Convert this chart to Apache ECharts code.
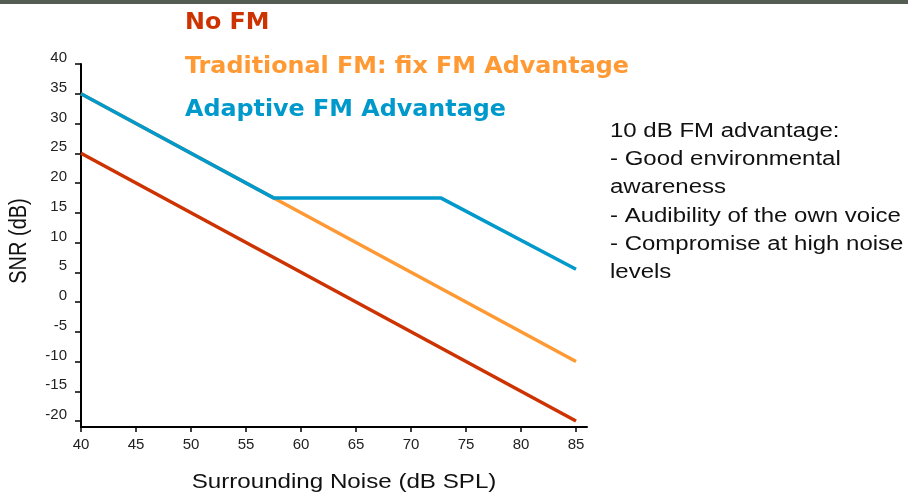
<!DOCTYPE html>
<html>
<head>
<meta charset="utf-8">
<script src="https://cdn.jsdelivr.net/npm/echarts@6/dist/echarts.min.js"></script>
<style>html,body{margin:0;padding:0;background:#fff;}#c{width:908px;height:495px;}</style>
</head>
<body>
<div id="c"></div>
<script>
// Data
const seriesNames = ['No FM', 'Traditional FM: fix FM Advantage', 'Adaptive FM Advantage'];
const noFM = [[40, 25], [85, -20]];
const traditionalFM = [[40, 35], [85, -10]];
const adaptiveFM = [[40, 35], [57.5, 17.5], [72.7, 17.5], [85, 5.5]];
const xTicks = [40, 45, 50, 55, 60, 65, 70, 75, 80, 85];
const yTicks = [-20, -15, -10, -5, 0, 5, 10, 15, 20, 25, 30, 35, 40];
const xTitle = 'Surrounding Noise (dB SPL)';
const yTitle = 'SNR (dB)';
const noteLines = ['10 dB FM advantage:', '- Good environmental', 'awareness', '- Audibility of the own voice', '- Compromise at high noise', 'levels'];

const colors = ['#cc3300', '#ff9933', '#0099cc'];
const chart = echarts.init(document.getElementById('c'), null, {renderer: 'canvas'});
const labelFont = {fontFamily: 'Liberation Sans, Arial, sans-serif', fontSize: 15, color: '#222'};
const legendFont = 'bold 23px "DejaVu Sans", Verdana, sans-serif';

chart.setOption({
  animation: false,
  backgroundColor: '#fff',
  grid: {left: 81, top: 64, width: 506, height: 363, containLabel: false},
  xAxis: {
    type: 'value', min: 40, max: 86,
    splitLine: {show: false},
    axisLine: {show: true, onZero: false, lineStyle: {color: '#000', width: 2}},
    axisTick: {show: true, length: 5, customValues: xTicks, lineStyle: {color: '#000', width: 1.5}},
    axisLabel: Object.assign({margin: 10, customValues: xTicks}, labelFont)
  },
  yAxis: {
    type: 'value', min: -21, max: 40,
    splitLine: {show: false},
    axisLine: {show: true, onZero: false, lineStyle: {color: '#000', width: 2}},
    axisTick: {show: true, length: 6, customValues: yTicks, lineStyle: {color: '#000', width: 1.5}},
    axisLabel: Object.assign({margin: 14, customValues: yTicks, verticalAlign: 'bottom', lineHeight: 12}, labelFont)
  },
  series: [
    {name: seriesNames[0], type: 'line', data: noFM, symbol: 'none', lineStyle: {color: colors[0], width: 3.5}, z: 2},
    {name: seriesNames[1], type: 'line', data: traditionalFM, symbol: 'none', lineStyle: {color: colors[1], width: 3.5}, z: 3},
    {name: seriesNames[2], type: 'line', data: adaptiveFM, symbol: 'none', lineStyle: {color: colors[2], width: 3.5}, z: 4}
  ],
  graphic: [
    {type: 'rect', left: 0, top: 0, shape: {width: 908, height: 4}, style: {fill: '#545d51'}},
    {type: 'text', x: 185, y: 23, scaleX: 1.035, style: {text: seriesNames[0], fill: colors[0], font: legendFont, verticalAlign: 'middle'}},
    {type: 'text', x: 185, y: 67, scaleX: 1.035, style: {text: seriesNames[1], fill: colors[1], font: legendFont, verticalAlign: 'middle'}},
    {type: 'text', x: 185, y: 110, scaleX: 1.035, style: {text: seriesNames[2], fill: colors[2], font: legendFont, verticalAlign: 'middle'}},
    {type: 'text', x: 610, y: 117, scaleX: 1.2, style: {text: noteLines.join('\n'), fill: '#111', font: '20px "Liberation Sans", Arial, sans-serif', lineHeight: 28.3, verticalAlign: 'top'}},
    {type: 'text', x: 344, y: 482, scaleX: 1.15, style: {text: xTitle, fill: '#111', font: '21px "Liberation Sans", Arial, sans-serif', align: 'center', verticalAlign: 'middle'}},
    {type: 'text', x: 20, y: 241, rotation: Math.PI / 2, scaleY: 1.15, style: {text: yTitle, fill: '#111', font: '20px "Liberation Sans", Arial, sans-serif', align: 'center', verticalAlign: 'middle'}}
  ]
});
</script>
</body>
</html>
